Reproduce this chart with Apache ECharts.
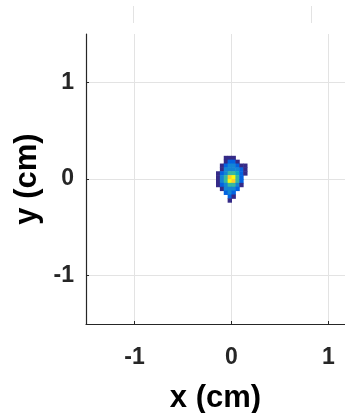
<!DOCTYPE html>
<html>
<head>
<meta charset="utf-8">
<script src="https://cdn.jsdelivr.net/npm/echarts@6/dist/echarts.min.js"></script>
<style>
  html, body { margin: 0; padding: 0; background: #fff; }
  #chart { width: 345px; height: 413px; }
</style>
</head>
<body>
<div id="chart"></div>
<script>
// bin centres (cm) of the 2D histogram
const BIN = 0.04
const xCenters = [-0.14, -0.10, -0.06, -0.02, 0.02, 0.06, 0.10, 0.14]
const yCenters = [0.22, 0.18, 0.14, 0.10, 0.06, 0.02, -0.02, -0.06, -0.10, -0.14, -0.18, -0.22]
// counts per bin, rows top -> bottom (0 = empty, drawn white)
const counts = [
    [0, 0, 1, 1, 1, 0, 0, 0],
    [0, 0, 1, 2, 2, 1, 0, 0],
    [0, 1, 2, 3, 3, 2, 1, 1],
    [0, 1, 3, 3, 3, 3, 2, 1],
    [1, 2, 3, 5, 5, 4, 2, 1],
    [1, 3, 5, 8, 9, 5, 2, 0],
    [1, 3, 5, 9, 8, 5, 2, 0],
    [1, 2, 3, 5, 5, 3, 1, 0],
    [0, 1, 3, 3, 3, 2, 0, 0],
    [0, 0, 2, 3, 2, 0, 0, 0],
    [0, 0, 0, 2, 1, 0, 0, 0],
    [0, 0, 0, 1, 0, 0, 0, 0]
]
const tickValues = [-1, 0, 1]
const parula = ['#352a87', '#0363e1', '#1485d4', '#06a7c6', '#38b99e', '#92bf73', '#d9ba56', '#fcce2e', '#f9fb0e']

const cells = []
counts.forEach((row, r) => {
    row.forEach((v, c) => {
        if (v > 0) cells.push([xCenters[c], yCenters[r], v])
    })
})

const chart = echarts.init(document.getElementById('chart'))

const tickLabel = {
    fontFamily: 'Liberation Sans',
    fontWeight: 'bold',
    fontSize: 23,
    color: '#262626'
}
const nameStyle = {
    fontFamily: 'Liberation Sans',
    fontWeight: 'bold',
    fontSize: 31,
    color: '#000'
}
const axisLine = { show: true, onZero: false, lineStyle: { color: '#262626', width: 1.2 } }
const gridLine = { show: true, lineStyle: { color: '#e3e3e3', width: 1 } }

const option = {
    animation: false,
    grid: [
        // plot area runs past the right edge of the picture
        { left: 86, top: 34, right: 0, height: 290, outerBoundsMode: 'none' },
        // faint lines left over from the panel above
        { left: 133, top: 6, width: 178, height: 17, outerBoundsMode: 'none' }
    ],
    visualMap: {
        show: false,
        type: 'continuous',
        min: 1,
        max: 9,
        dimension: 2,
        seriesIndex: 0,
        inRange: { color: parula }
    },
    xAxis: [
        {
            type: 'value',
            min: -1.5,
            max: 1.17,
            name: 'x (cm)',
            nameLocation: 'middle',
            nameGap: 59,
            nameTextStyle: nameStyle,
            axisLine: axisLine,
            axisTick: { show: true, inside: true, length: 3, customValues: tickValues, lineStyle: { color: '#262626' } },
            axisLabel: { ...tickLabel, margin: 22, customValues: tickValues },
            splitLine: gridLine
        },
        {
            gridIndex: 1, type: 'value', min: 0, max: 1, interval: 1,
            axisLine: { show: false }, axisTick: { show: false }, axisLabel: { show: false },
            splitLine: gridLine
        }
    ],
    yAxis: [
        {
            type: 'value',
            min: -1.5,
            max: 1.5,
            name: 'y (cm)',
            nameLocation: 'middle',
            nameGap: 43,
            nameTextStyle: nameStyle,
            axisLine: axisLine,
            axisTick: { show: true, inside: true, length: 3, customValues: tickValues, lineStyle: { color: '#262626' } },
            axisLabel: { ...tickLabel, margin: 12, customValues: tickValues },
            splitLine: gridLine
        },
        {
            gridIndex: 1, type: 'value', min: 0, max: 1,
            axisLine: { show: false }, axisTick: { show: false }, axisLabel: { show: false },
            splitLine: { show: false }
        }
    ],
    series: [
        {
            type: 'custom',
            xAxisIndex: 0,
            yAxisIndex: 0,
            data: cells,
            encode: { x: 0, y: 1 },
            renderItem: function (params, api) {
                const x = api.value(0)
                const y = api.value(1)
                const p0 = api.coord([x - BIN / 2, y + BIN / 2])
                const p1 = api.coord([x + BIN / 2, y - BIN / 2])
                return {
                    type: 'rect',
                    shape: { x: p0[0], y: p0[1], width: p1[0] - p0[0] + 0.5, height: p1[1] - p0[1] + 0.5 },
                    style: { fill: api.visual('color') }
                }
            }
        }
    ]
}

chart.setOption(option)
</script>
</body>
</html>
